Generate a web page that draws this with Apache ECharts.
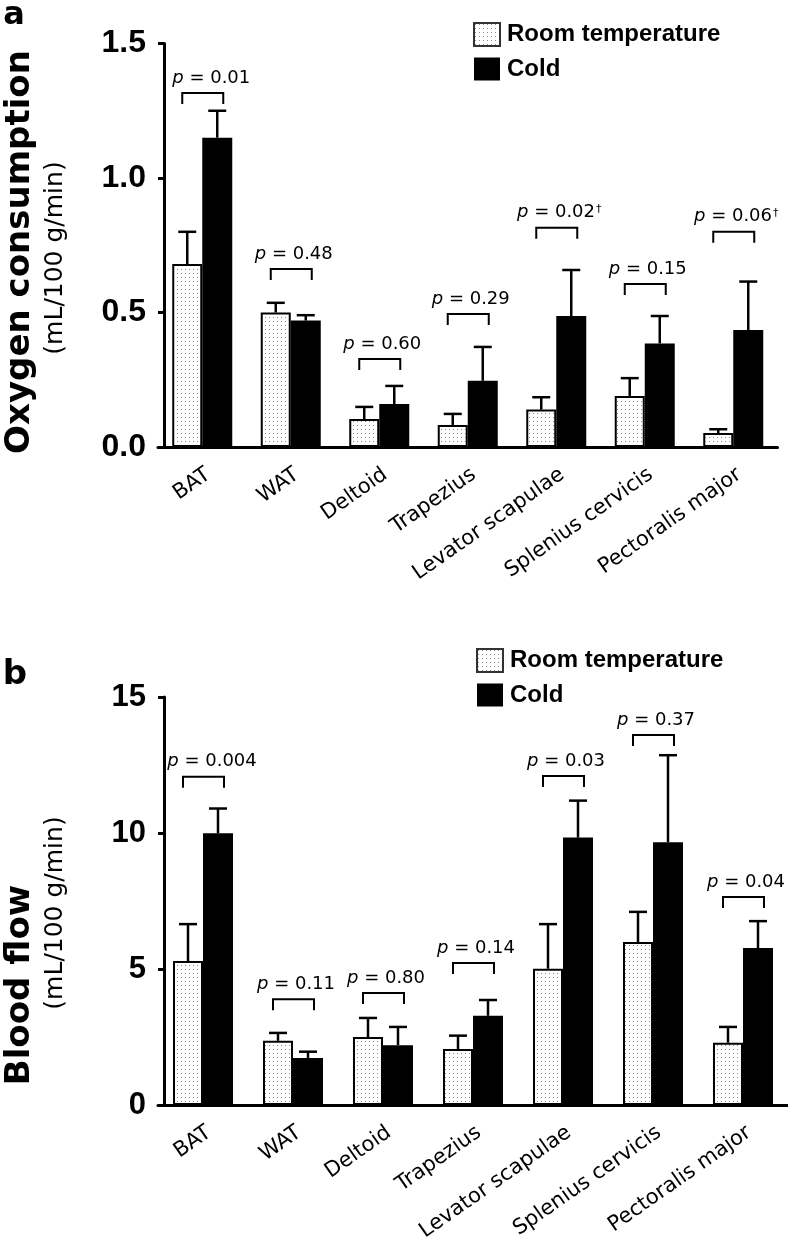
<!DOCTYPE html>
<html><head><meta charset="utf-8">
<script src="https://cdn.jsdelivr.net/npm/echarts@6/dist/echarts.min.js"></script>
<style>html,body{margin:0;padding:0;background:#fff}#c{width:788px;height:1238px}</style>
</head><body><div id="c"></div>
<script>
// ---------- data ----------
const categories = ['BAT','WAT','Deltoid','Trapezius','Levator scapulae','Splenius cervicis','Pectoralis major'];
const seriesNames = ['Room temperature','Cold'];

// Panel a: oxygen consumption (mL/100 g/min); *Err = top of the error bar
const o2Room    = [0.68, 0.50, 0.104, 0.082, 0.139, 0.19, 0.052];
const o2RoomErr = [0.80, 0.536, 0.149, 0.123, 0.185, 0.256, 0.066];
const o2Cold    = [1.15, 0.47, 0.16, 0.246, 0.487, 0.385, 0.435];
const o2ColdErr = [1.25, 0.49, 0.227, 0.372, 0.658, 0.487, 0.615];
const o2PLabels = ['p = 0.01','p = 0.48','p = 0.60','p = 0.29','p = 0.02†','p = 0.15','p = 0.06†'];
const o2PLevel  = [1.316, 0.662, 0.327, 0.494, 0.815, 0.606, 0.80];
const o2Ticks   = ['0.0','0.5','1.0','1.5'];

// Panel b: blood flow (mL/100 g/min)
const bfRoom    = [5.29, 2.36, 2.5, 2.06, 5.01, 5.99, 2.29];
const bfRoomErr = [6.65, 2.65, 3.2, 2.55, 6.65, 7.1, 2.87];
const bfCold    = [9.99, 1.73, 2.2, 3.28, 9.83, 9.66, 5.77];
const bfColdErr = [10.9, 1.96, 2.87, 3.86, 11.19, 12.86, 6.76];
const bfPLabels = ['p = 0.004','p = 0.11','p = 0.80','p = 0.14','p = 0.03','p = 0.37','p = 0.04'];
const bfPLevel  = [12.07, 3.89, 4.12, 5.22, 12.1, 13.6, 7.65];
const bfTicks   = ['0','5','10','15'];

// ---------- styles ----------
const SANS = 'DejaVu Sans';
const ARIAL = 'Liberation Sans';
const BAR_W = 30;

const pc = document.createElement('canvas'); pc.width = 4; pc.height = 4;
const g2 = pc.getContext('2d');
g2.fillStyle = '#ffffff'; g2.fillRect(0, 0, 4, 4);
g2.fillStyle = '#8c8c8c'; g2.fillRect(1, 1, 1, 1);
const dots = { image: pc, repeat: 'repeat' };

function richLabel(s) {
  const dag = s.indexOf('†') >= 0;
  const rest = s.replace('†', '').replace(/^p/, '');
  return '{i|p}{n|' + rest + '}' + (dag ? '{s|†}' : '');
}
const pRich = {
  i: { fontFamily: SANS, fontSize: 18, fontStyle: 'italic', fill: '#000' },
  n: { fontFamily: SANS, fontSize: 18, fill: '#000' },
  s: { fontFamily: SANS, fontSize: 11, fill: '#000', verticalAlign: 'top', padding: [0, 0, 8, 1] }
};

function bars(gi, room, cold) {
  return [
    { type: 'bar', name: seriesNames[0], xAxisIndex: gi, yAxisIndex: gi, data: room, barWidth: BAR_W, barGap: '0%',
      itemStyle: { color: dots, borderColor: '#000', borderWidth: 2 }, z: 3, silent: true },
    { type: 'bar', name: seriesNames[1], xAxisIndex: gi, yAxisIndex: gi, data: cold, barWidth: BAR_W, barGap: '0%',
      itemStyle: { color: '#000' }, z: 3, silent: true }
  ];
}
function errSeries(gi, vals, errs, side) {
  return {
    type: 'custom', xAxisIndex: gi, yAxisIndex: gi, z: 2, silent: true,
    data: vals.map((v, i) => [i, v, errs[i]]),
    renderItem(params, api) {
      const p0 = api.coord([api.value(0), api.value(1)]);
      const p1 = api.coord([api.value(0), api.value(2)]);
      const x = p0[0] + side * BAR_W / 2;
      const st = { stroke: '#000', lineWidth: 2.5 };
      return { type: 'group', children: [
        { type: 'line', shape: { x1: x, y1: p0[1], x2: x, y2: p1[1] }, style: st },
        { type: 'line', shape: { x1: x - 9, y1: p1[1], x2: x + 9, y2: p1[1] }, style: st }
      ] };
    }
  };
}
function bracketSeries(gi, levels, labels) {
  return {
    type: 'custom', xAxisIndex: gi, yAxisIndex: gi, z: 4, silent: true,
    data: levels.map((v, i) => [i, v]),
    renderItem(params, api) {
      const i = params.dataIndex;
      const p = api.coord([api.value(0), api.value(1)]);
      const x0 = p[0] - 20, x1 = p[0] + 21, y = p[1];
      const dx = i === 0 ? 9 : 3;
      return { type: 'group', children: [
        { type: 'polyline', shape: { points: [[x0, y + 11], [x0, y], [x1, y], [x1, y + 11]] },
          style: { stroke: '#000', lineWidth: 2, fill: null } },
        { type: 'text', x: p[0] + dx, y: y - 15,
          style: { text: richLabel(labels[i]), rich: pRich, align: 'center', verticalAlign: 'middle',
                   fontFamily: SANS, fontSize: 18, fill: '#000' } }
      ] };
    }
  };
}

function xAxisCfg(gi) {
  return {
    type: 'category', gridIndex: gi, data: categories,
    axisLine: { lineStyle: { color: '#000', width: 3 } },
    axisTick: { alignWithLabel: true, length: 9, lineStyle: { color: '#000', width: 2.5 } },
    axisLabel: { interval: 0, rotate: 35, margin: 17, verticalAlign: 'top', color: '#000', fontFamily: SANS, fontSize: 21 },
    splitLine: { show: false }
  };
}
function yAxisCfg(gi, max, interval, ticks, fs) {
  return {
    type: 'value', gridIndex: gi, min: 0, max: max, interval: interval, offset: -6,
    axisLine: { show: true, lineStyle: { color: '#000', width: 3 } },
    axisTick: { show: true, length: 6, lineStyle: { color: '#000', width: 3 } },
    axisLabel: { margin: 18, color: '#000', fontFamily: ARIAL, fontWeight: 'bold', fontSize: fs,
                 formatter: v => ticks[Math.round(v / interval)] },
    splitLine: { show: false }
  };
}
function legendCfg(left, top) {
  return {
    orient: 'vertical', left: left, top: top, padding: 0, itemWidth: 26, itemHeight: 23, itemGap: 10,
    selectedMode: false, icon: 'rect',
    data: [
      { name: seriesNames[0], itemStyle: { color: dots, borderColor: '#333', borderWidth: 2 } },
      { name: seriesNames[1], itemStyle: { color: '#000' } }
    ],
    textStyle: { fontFamily: ARIAL, fontWeight: 'bold', fontSize: 24, color: '#000', padding: [0, 0, 0, 2] }
  };
}

const option = {
  backgroundColor: '#fff',
  animation: false,
  grid: [
    { left: 158, top: 43.5, width: 619.5, height: 403.5, containLabel: false, outerBoundsMode: 'none' },
    { left: 158, top: 697, width: 630, height: 408, containLabel: false, outerBoundsMode: 'none' }
  ],
  xAxis: [xAxisCfg(0), xAxisCfg(1)],
  yAxis: [yAxisCfg(0, 1.5, 0.5, o2Ticks, 32), yAxisCfg(1, 15, 5, bfTicks, 31)],
  legend: [legendCfg(473, 22), legendCfg(476, 648)],
  series: [
    ...bars(0, o2Room, o2Cold),
    errSeries(0, o2Room, o2RoomErr, -1),
    errSeries(0, o2Cold, o2ColdErr, 1),
    bracketSeries(0, o2PLevel, o2PLabels),
    ...bars(1, bfRoom, bfCold),
    errSeries(1, bfRoom, bfRoomErr, -1),
    errSeries(1, bfCold, bfColdErr, 1),
    bracketSeries(1, bfPLevel, bfPLabels)
  ],
  graphic: [
    { type: 'text', x: 14, y: 16, style: { text: 'a', fontFamily: SANS, fontWeight: 'bold', fontSize: 32, fill: '#000', align: 'center', verticalAlign: 'middle' } },
    { type: 'text', x: 15, y: 675, style: { text: 'b', fontFamily: SANS, fontWeight: 'bold', fontSize: 34, fill: '#000', align: 'center', verticalAlign: 'middle' } },
    { type: 'text', x: 20, y: 252, rotation: Math.PI / 2, style: { text: 'Oxygen consumption', fontFamily: SANS, fontWeight: 'bold', fontSize: 34, fill: '#000', align: 'center', verticalAlign: 'middle' } },
    { type: 'text', x: 55, y: 258, rotation: Math.PI / 2, style: { text: '(mL/100 g/min)', fontFamily: SANS, fontSize: 25, fill: '#000', align: 'center', verticalAlign: 'middle' } },
    { type: 'text', x: 20, y: 985, rotation: Math.PI / 2, style: { text: 'Blood flow', fontFamily: SANS, fontWeight: 'bold', fontSize: 34, fill: '#000', align: 'center', verticalAlign: 'middle' } },
    { type: 'text', x: 55, y: 913, rotation: Math.PI / 2, style: { text: '(mL/100 g/min)', fontFamily: SANS, fontSize: 25, fill: '#000', align: 'center', verticalAlign: 'middle' } }
  ]
};

const chart = echarts.init(document.getElementById('c'));
chart.setOption(option);
</script>
</body></html>
